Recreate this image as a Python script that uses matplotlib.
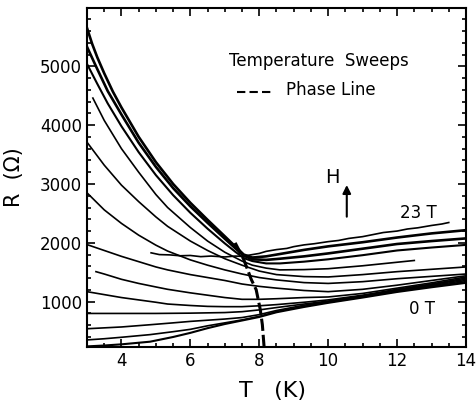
import matplotlib
matplotlib.use("Agg")
import matplotlib.pyplot as plt
from matplotlib.ticker import MultipleLocator

# temperature sweeps, R (ohm) vs T (K)
# 23 T sweep (starts at ~4.9 K)
t_a = [4.86, 5.1, 5.4, 5.7, 6.0, 6.3, 6.6, 7.0, 7.3, 7.5, 7.8, 8.0, 8.2, 8.5, 8.8, 9.0, 9.3,
       9.6, 10.0, 10.3, 10.6, 11.0, 11.3, 11.6, 12.0, 12.3, 12.6, 13.0, 13.3, 13.5]
r_a = [1830, 1800, 1795, 1780, 1785, 1765, 1775, 1760, 1775, 1770, 1800, 1820, 1855, 1885, 1905, 1935, 1965,
       1985, 2020, 2040, 2075, 2105, 2140, 2175, 2200, 2235, 2255, 2295, 2320, 2345]

t_b = [3.0, 3.15, 3.3, 3.5, 3.75, 4.0, 4.5, 5.0, 5.5, 6.0, 6.5, 7.0, 7.3, 7.55, 7.8, 8.2, 8.6, 9.3, 10, 11, 12, 13, 14]
r_b = [5650, 5380, 5150, 4880, 4570, 4300, 3800, 3370, 3000, 2680, 2390, 2110, 1940, 1800, 1750, 1770, 1810, 1880,
       1940, 2010, 2090, 2160, 2215]

t_c = [3.0, 3.3, 3.6, 4.0, 4.5, 5.0, 5.5, 6.0, 6.5, 7.0, 7.3, 7.55, 7.8, 8.2, 8.6, 9.3, 10, 11, 12, 13, 14]
r_c = [5330, 4950, 4580, 4180, 3700, 3290, 2930, 2620, 2340, 2070, 1910, 1780, 1720, 1710, 1730, 1770,
       1820, 1900, 1980, 2030, 2075]

t_d = [3.0, 3.3, 3.6, 4.0, 4.5, 5.0, 5.5, 6.0, 6.5, 7.0, 7.3, 7.55, 7.8, 8.2, 8.6, 9.3, 10, 11, 12, 13, 14]
r_d = [5040, 4700, 4370, 3980, 3540, 3150, 2810, 2510, 2240, 1990, 1850, 1740, 1690, 1650, 1650, 1680,
       1720, 1790, 1870, 1920, 1965]

t_e = [3.17, 3.5, 4.0, 4.5, 5.0, 5.34, 6.0, 6.5, 7.0, 7.5, 7.8, 8.2, 8.6, 9.3, 10, 11, 12, 12.5]
r_e = [4460, 4080, 3600, 3200, 2820, 2600, 2260, 2030, 1840, 1690, 1620, 1570, 1540, 1545, 1560, 1610, 1670, 1700]

t_f = [3.0, 3.5, 4.0, 4.5, 5.0, 5.34, 6.0, 6.5, 7.0, 7.5, 8.0, 8.5, 9.3, 10, 11, 12, 13, 14]
r_f = [3710, 3320, 2980, 2700, 2440, 2280, 2030, 1870, 1730, 1620, 1520, 1460, 1426, 1420, 1460, 1510, 1550, 1590]

t_g = [3.0, 3.5, 4.0, 4.5, 5.0, 5.34, 6.0, 6.5, 7.0, 7.5, 8.0, 8.5, 9.3, 10, 11, 12, 13, 14]
r_g = [2850, 2560, 2330, 2130, 1960, 1860, 1710, 1620, 1540, 1470, 1410, 1370, 1324, 1310, 1340, 1390, 1430, 1470]

t_h = [3.0, 3.5, 4.0, 4.5, 5.0, 5.34, 6.0, 6.5, 7.0, 7.5, 8.0, 8.5, 9.3, 10, 11, 12, 13, 14]
r_h = [1970, 1870, 1770, 1680, 1590, 1540, 1460, 1410, 1360, 1300, 1260, 1230, 1190, 1170, 1210, 1280, 1360, 1440]

t_i = [3.26, 3.5, 4.0, 4.5, 5.0, 5.34, 6.0, 6.5, 7.0, 7.5, 8.0, 8.5, 9.3, 10, 11, 12, 13, 14]
r_i = [1510, 1470, 1380, 1310, 1250, 1210, 1150, 1110, 1070, 1040, 1040, 1050, 1070, 1080, 1140, 1230, 1320, 1420]

t_j = [3.0, 3.5, 4.0, 4.5, 5.0, 5.34, 6.0, 6.5, 7.0, 7.5, 8.0, 8.5, 9.3, 10, 11, 12, 13, 14]
r_j = [1170, 1120, 1070, 1030, 990, 960, 935, 920, 915, 915, 930, 950, 990, 1030, 1110, 1210, 1300, 1400]

t_k = [3.0, 4.0, 5.0, 6.0, 7.0, 7.5, 8.0, 8.5, 9.3, 10, 11, 12, 13, 14]
r_k = [800, 800, 800, 805, 815, 830, 860, 900, 960, 1010, 1100, 1200, 1290, 1380]

t_l = [3.0, 4.0, 4.83, 5.5, 6.0, 7.0, 7.5, 8.0, 8.5, 9.3, 10, 11, 12, 13, 14]
r_l = [540, 570, 608, 640, 665, 705, 730, 780, 850, 940, 1000, 1090, 1185, 1275, 1360]

t_m = [3.0, 3.5, 4.0, 4.83, 5.5, 6.0, 6.5, 7.0, 7.5, 8.0, 8.5, 9.3, 10, 11, 12, 13, 14]
r_m = [350, 370, 395, 440, 490, 530, 590, 640, 690, 750, 830, 920, 990, 1080, 1175, 1260, 1340]

# 0 T sweep
t_n = [3.0, 3.5, 4.0, 4.83, 5.5, 6.0, 6.5, 7.0, 7.5, 8.0, 8.5, 9.3, 10, 11, 12, 13, 14]
r_n = [240, 255, 275, 320, 400, 470, 550, 620, 680, 740, 820, 910, 980, 1070, 1165, 1245, 1320]

# phase line
t_phase = [7.3, 7.55, 7.77, 7.91, 8.03, 8.09, 8.14]
r_phase = [2000, 1716, 1375, 1204, 864, 608, 230]

sweeps = [(t_b, r_b, 1.9), (t_c, r_c, 1.9), (t_d, r_d, 1.5), (t_e, r_e, 1.2), (t_f, r_f, 1.2),
          (t_g, r_g, 1.2), (t_h, r_h, 1.2), (t_i, r_i, 1.2), (t_j, r_j, 1.2), (t_k, r_k, 1.2),
          (t_l, r_l, 1.2), (t_m, r_m, 1.2), (t_n, r_n, 1.5), (t_a, r_a, 1.2)]

fig = plt.figure(figsize=(4.77, 4.01), dpi=100)
ax = fig.add_axes([0.1824, 0.1347, 0.7945, 0.8453])

for t, r, lw in sweeps:
    ax.plot(t, r, color='black', lw=lw)

ax.plot(t_phase, r_phase, color='black', lw=2.2, dashes=(4, 1.3))

ax.set_xlim(3, 14)
ax.set_ylim(230, 5990)
ax.xaxis.set_major_locator(MultipleLocator(2))
ax.xaxis.set_minor_locator(MultipleLocator(0.5))
ax.yaxis.set_major_locator(MultipleLocator(1000))
ax.yaxis.set_minor_locator(MultipleLocator(200))
ax.tick_params(which='both', direction='in', top=True, right=True, width=1.2, labelsize=12)
ax.tick_params(which='major', length=6)
ax.tick_params(which='minor', length=3)
for s in ax.spines.values():
    s.set_linewidth(1.5)

ax.set_xlabel('T   (K)', fontsize=16)
ax.xaxis.set_label_coords(0.49, -0.1)
ax.set_ylabel('R  (Ω)', fontsize=15)
ax.yaxis.set_label_coords(-0.165, 0.5)

# annotations
ax.text(7.11, 5090, 'Temperature  Sweeps', fontsize=12, ha='left', va='center')
ax.plot([7.34, 8.37], [4560, 4560], color='black', lw=1.5, dashes=(4, 2))
ax.text(8.77, 4590, 'Phase Line', fontsize=12, ha='left', va='center')
ax.text(10.11, 3113, 'H', fontsize=14, ha='center', va='center')
ax.annotate('', xy=(10.54, 3030), xytext=(10.54, 2397),
            arrowprops=dict(arrowstyle='-|>', color='black', lw=1.5, mutation_scale=12))
ax.text(12.63, 2510, '23 T', fontsize=12, ha='center', va='center')
ax.text(12.71, 880, '0 T', fontsize=12, ha='center', va='center')

fig.savefig('out.png', dpi=100)
